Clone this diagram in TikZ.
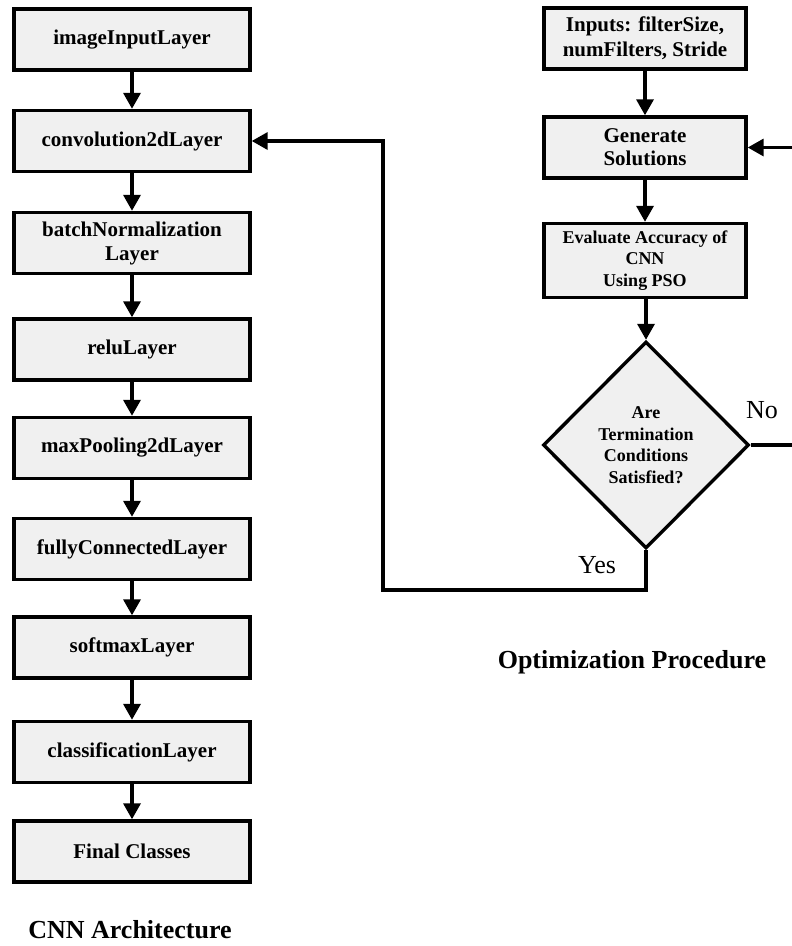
\documentclass[tikz,border=0pt]{standalone}
\usepackage{fontspec}
\setmainfont{Liberation Serif}
\usetikzlibrary{arrows.meta,shapes.geometric}
\definecolor{boxfill}{HTML}{F0F0F0}
\begin{document}
\begin{tikzpicture}[x=1pt,y=-1pt,
  lbox/.style={draw,line width=3.4pt,fill=boxfill,minimum width=236pt,minimum height=61pt,inner sep=0pt,align=center,font=\bfseries\fontsize{21}{24}\selectfont},
  rbox/.style={lbox,minimum width=202pt},
  smalltxt/.style={font=\bfseries\fontsize{18}{21.5}\selectfont},
  dbox/.style={draw,line width=3.4pt,fill=boxfill,diamond,aspect=1,minimum width=206pt,minimum height=207pt,inner sep=0pt,align=center},
  arr/.style={line width=3.4pt,-{Triangle[width=17pt,length=16pt]}},
  lbl/.style={font=\fontsize{26}{30}\selectfont},
  ttl/.style={font=\bfseries\fontsize{26}{30}\selectfont}
]
\useasboundingbox (0,0) rectangle (792,946);
% CNN column
\node[lbox] (n1) at (132,39.5) {imageInputLayer};
\node[lbox] (n2) at (132,141) {convolution2dLayer};
\node[lbox] (n3) at (132,243) {batchNormalization\\Layer};
\node[lbox] (n4) at (132,349.5) {reluLayer};
\node[lbox] (n5) at (132,448) {maxPooling2dLayer};
\node[lbox] (n6) at (132,549) {fullyConnectedLayer};
\node[lbox] (n7) at (132,647.5) {softmaxLayer};
\node[lbox] (n8) at (132,752) {classificationLayer};
\node[lbox] (n9) at (132,851.5) {Final Classes};
\node[ttl] (t1) at (130,930) {CNN Architecture};
\foreach \a/\b in {n1/n2,n2/n3,n3/n4,n4/n5,n5/n6,n6/n7,n7/n8,n8/n9}
  \draw[arr] (\a) -- (\b);
% Optimization column
\node[rbox,font=\bfseries\fontsize{21}{25}\selectfont] (r1) at (645,38.5) {Inputs: filterSize,\\numFilters, Stride};
\node[rbox,font=\bfseries\fontsize{21}{23}\selectfont] (r2) at (645,147.5) {Generate\\Solutions};
\node[rbox,smalltxt,minimum height=74pt] (r3) at (645,260.5) {Evaluate Accuracy of\\CNN\\Using PSO};
\node[dbox,smalltxt] (d) at (646,445) {Are\\Termination\\Conditions\\Satisfied?};
\node[ttl] (t2) at (632,662) {Optimization Procedure};
\draw[arr] (r1) -- (r2);
\draw[arr] (r2) -- (r3);
\draw[arr] (r3.south -| d.north) -- (d.north);
% No loop
\coordinate (nx) at (797,0);
\draw[arr] (d.east) -| (nx |- r2.east) -- (r2.east);
\node[lbl] (no) at (762,410) {No};
% Yes path
\coordinate (yc) at (383,590);
\draw[arr] (d.south) |- (yc) |- (n2.east);
\node[lbl] (yes) at (597,565) {Yes};
\end{tikzpicture}
\end{document}
